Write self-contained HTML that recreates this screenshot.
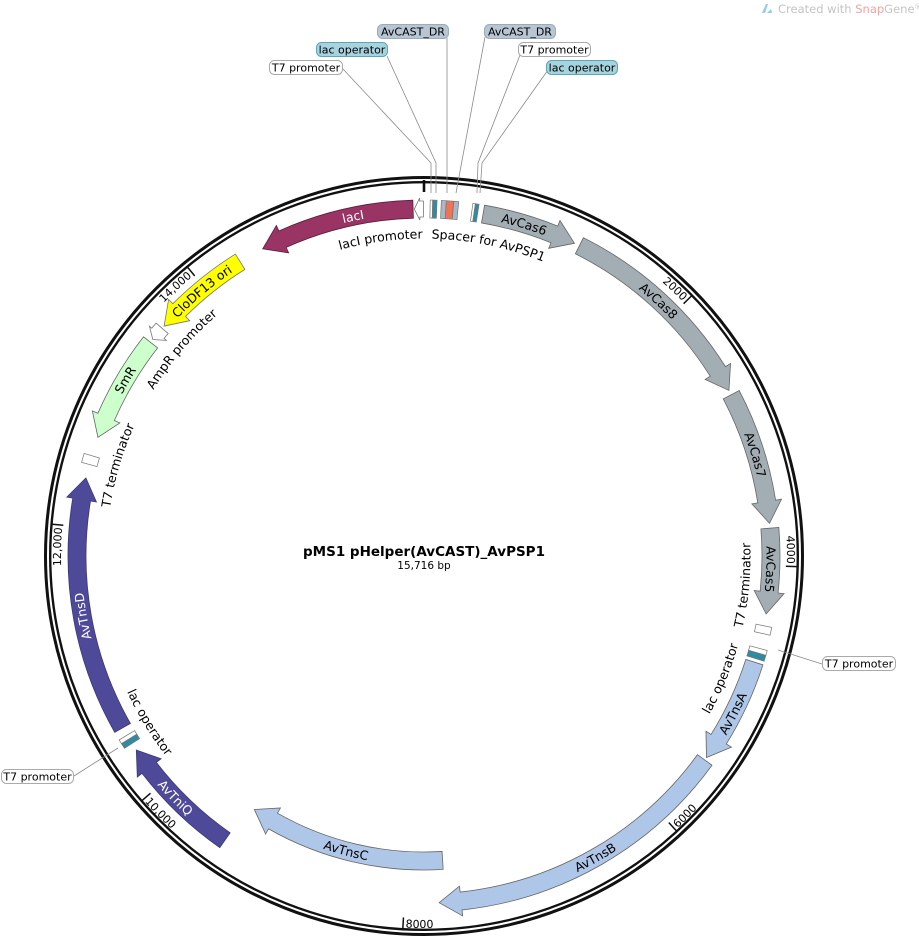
<!DOCTYPE html>
<html><head><meta charset="utf-8"><style>
html,body{margin:0;padding:0;background:#fff;}
svg{display:block;font-family:"DejaVu Sans","Liberation Sans",sans-serif;}
</style></head><body>
<svg id="s" width="919" height="940" viewBox="0 0 919 940" xmlns="http://www.w3.org/2000/svg">
<defs id="d"></defs>
<g id="g"></g>
<path d="M762 13 L766 4 L768 4 L765 13 Z M767 13 L771 9 L772 13 Z" fill="#8fcde8"/>
<text x="778" y="13" font-size="11.5" fill="#c4c4c4">Created with <tspan fill="#f2a3a3">Snap</tspan>Gene<tspan font-size="7" dy="-4">®</tspan></text>
<text x="424" y="556" font-size="13.5" font-weight="bold" text-anchor="middle" fill="#000">pMS1 pHelper(AvCAST)_AvPSP1</text>
<text x="424" y="569" font-size="10.5" text-anchor="middle" fill="#000">15,716 bp</text>
<g stroke="#8a8a8a" stroke-width="0.8" fill="none">
<polyline points="342,68 431,163 431,193"/>
<polyline points="387,56 436,163 436,193"/>
<polyline points="447,38 447,193"/>
<polyline points="485,37 456,193"/>
<polyline points="520,55 478,163 477,193"/>
<polyline points="548,70 482,163 480,193"/>
<polyline points="778,650 822,664"/>
<polyline points="74,776 118,748"/>
</g>
<g font-size="11" text-anchor="middle">
<rect x="377.5" y="24.5" width="71" height="14" rx="5" fill="#b8c6d3" stroke="#9aaab8"/>
<text x="413" y="35.5">AvCAST_DR</text>
<rect x="484.5" y="24.5" width="71" height="14" rx="5" fill="#b8c6d3" stroke="#9aaab8"/>
<text x="520" y="35.5">AvCAST_DR</text>
<rect x="316.5" y="42.5" width="71" height="14" rx="5" fill="#a6d3dd" stroke="#5aa6b8"/>
<text x="352" y="53.5">lac operator</text>
<rect x="546.5" y="60.5" width="71" height="14" rx="5" fill="#a6d3dd" stroke="#5aa6b8"/>
<text x="582" y="71.5">lac operator</text>
<rect x="269.5" y="60.5" width="73" height="14" rx="5" fill="#fff" stroke="#aaa"/>
<text x="306" y="71.5">T7 promoter</text>
<rect x="518.5" y="42.5" width="72" height="14" rx="5" fill="#fff" stroke="#aaa"/>
<text x="554.5" y="53.5">T7 promoter</text>
<rect x="822.5" y="656.5" width="73" height="14" rx="5" fill="#fff" stroke="#aaa"/>
<text x="859" y="667.5">T7 promoter</text>
<rect x="1.5" y="769.5" width="72" height="14" rx="5" fill="#fff" stroke="#aaa"/>
<text x="37.5" y="780.5">T7 promoter</text>
</g>
<g id="t" font-size="12.5">
<text fill="#fff"><textPath href="#p_lacI" startOffset="50%" text-anchor="middle">lacI</textPath></text>
<text><textPath href="#p_cas6" startOffset="50%" text-anchor="middle">AvCas6</textPath></text>
<text><textPath href="#p_cas8" startOffset="50%" text-anchor="middle">AvCas8</textPath></text>
<text><textPath href="#p_cas7" startOffset="50%" text-anchor="middle">AvCas7</textPath></text>
<text><textPath href="#p_cas5" startOffset="50%" text-anchor="middle">AvCas5</textPath></text>
<text><textPath href="#p_tnsA" startOffset="50%" text-anchor="middle">AvTnsA</textPath></text>
<text><textPath href="#p_tnsB" startOffset="50%" text-anchor="middle">AvTnsB</textPath></text>
<text><textPath href="#p_tnsC" startOffset="50%" text-anchor="middle">AvTnsC</textPath></text>
<text fill="#fff"><textPath href="#p_tniQ" startOffset="50%" text-anchor="middle">AvTniQ</textPath></text>
<text fill="#fff"><textPath href="#p_tnsD" startOffset="50%" text-anchor="middle">AvTnsD</textPath></text>
<text><textPath href="#p_smr" startOffset="50%" text-anchor="middle">SmR</textPath></text>
<text><textPath href="#p_clo" startOffset="50%" text-anchor="middle">CloDF13 ori</textPath></text>
<text><textPath href="#p_lacIp" startOffset="50%" text-anchor="middle">lacI promoter</textPath></text>
<text><textPath href="#p_spacer" startOffset="50%" text-anchor="middle">Spacer for AvPSP1</textPath></text>
<text><textPath href="#p_ampr" startOffset="50%" text-anchor="middle">AmpR promoter</textPath></text>
<text><textPath href="#p_t7tl" startOffset="50%" text-anchor="middle">T7 terminator</textPath></text>
<text><textPath href="#p_lacol" startOffset="50%" text-anchor="middle">lac operator</textPath></text>
<text><textPath href="#p_t7tr" startOffset="50%" text-anchor="middle">T7 terminator</textPath></text>
<text><textPath href="#p_lacor" startOffset="50%" text-anchor="middle">lac operator</textPath></text>
<text font-size="11"><textPath href="#k2000" startOffset="100%" text-anchor="end">2000</textPath></text>
<text font-size="11"><textPath href="#k4000" startOffset="100%" text-anchor="end">4000</textPath></text>
<text font-size="11"><textPath href="#k6000" startOffset="0%" text-anchor="start">6000</textPath></text>
<text font-size="11"><textPath href="#k8000" startOffset="0%" text-anchor="start">8000</textPath></text>
<text font-size="11"><textPath href="#k10000" startOffset="0%" text-anchor="start">10,000</textPath></text>
<text font-size="11"><textPath href="#k12000" startOffset="100%" text-anchor="end">12,000</textPath></text>
<text font-size="11"><textPath href="#k14000" startOffset="100%" text-anchor="end">14,000</textPath></text>
</g>
</svg>
<script>
(function(){
var NS="http://www.w3.org/2000/svg",cx=424,cy=556;
var d=document.getElementById("d"),g=document.getElementById("g");
function P(a,r){var t=a*Math.PI/180;return [(cx+r*Math.sin(t)).toFixed(2),(cy-r*Math.cos(t)).toFixed(2)];}
function arcTo(r,a1,a2){var p=P(a2,r);var large=Math.abs(a2-a1)>180?1:0;var sw=a2>a1?1:0;return "A"+r+" "+r+" 0 "+large+" "+sw+" "+p[0]+" "+p[1];}
function M(a,r){var p=P(a,r);return "M"+p[0]+" "+p[1];}
function L(a,r){var p=P(a,r);return "L"+p[0]+" "+p[1];}
function el(tag,attrs,parent){var e=document.createElementNS(NS,tag);for(var k in attrs)e.setAttribute(k,attrs[k]);(parent||g).appendChild(e);return e;}
function circ(r,w){el("circle",{cx:cx,cy:cy,r:r,fill:"none",stroke:"#111","stroke-width":w});}
circ(378.5,3);circ(373.8,2.4);
function arrow(a1,a2,rev,rm,fill,stroke,hw,hh,hl){
  hw=hw||9;hh=hh||15;hl=hl||22;
  var ha=hl/rm*180/Math.PI; if(ha>(a2-a1)*0.6)ha=(a2-a1)*0.6;
  var s;
  if(!rev){var ab=a2-ha;
    s=M(a1,rm+hw)+arcTo(rm+hw,a1,ab)+L(ab,rm+hh)+L(a2,rm)+L(ab,rm-hh)+L(ab,rm-hw)+arcTo(rm-hw,ab,a1)+"Z";
  }else{var ab=a1+ha;
    s=M(a2,rm+hw)+arcTo(rm+hw,a2,ab)+L(ab,rm+hh)+L(a1,rm)+L(ab,rm-hh)+L(ab,rm-hw)+arcTo(rm-hw,ab,a2)+"Z";}
  el("path",{d:s,fill:fill,stroke:stroke||"#666","stroke-width":0.8});
}
function box(a1,a2,r1,r2,fill,stroke){
  var s=M(a1,r2)+arcTo(r2,a1,a2)+L(a2,r1)+arcTo(r1,a2,a1)+"Z";
  el("path",{d:s,fill:fill,stroke:stroke||"#777","stroke-width":0.7});
}
var R=347,RI=305;
el("line",{x1:424,y1:180,x2:424,y2:192,stroke:"#111","stroke-width":2.6});
[2000,4000,6000,8000,10000,12000,14000].forEach(function(b){var a=b/15716*360;var p1=P(a,373),p2=P(a,362);el("line",{x1:p1[0],y1:p1[1],x2:p2[0],y2:p2[1],stroke:"#111","stroke-width":1.5});});
var GR="#a3adb4",LB="#aec6e7",DP="#4e4a99";
arrow(332.3,358.2,true,R,"#993464","#5a1e3a");
arrow(358.4,359.9,true,R,"#fff","#777",8,11,8);
box(1.0,1.4,R-9,R+9,"#fff");box(1.4,2.1,R-9,R+9,"#2f8aa3");
box(2.8,3.6,R-9,R+9,"#a9b7c6");box(3.6,4.8,R-9,R+9,"#ec7458");box(4.8,5.6,R-9,R+9,"#a9b7c6");
box(7.9,8.3,R-9,R+9,"#fff");box(8.3,8.9,R-9,R+9,"#2f8aa3");
arrow(9.8,25.7,false,R,GR);
arrow(26.6,61.5,false,R,GR);
arrow(62.3,84.6,false,R,GR);
arrow(85.4,99.6,false,R,GR);
box(101.6,102.9,R-8,R+8,"#fff");
box(105.4,106.2,R-9,R+9,"#fff");box(106.2,107.2,R-9,R+9,"#2f8aa3");
arrow(107.8,125.5,false,R,LB);
arrow(126.0,177.5,false,R,LB);
arrow(176.5,213.8,false,RI,LB);
arrow(215.0,236.0,false,R,DP,"#3a3778");
box(237.3,238.2,R-9,R+9,"#2f8aa3");box(238.2,238.9,R-9,R+9,"#fff");
arrow(240.3,283.0,false,R,DP,"#3a3778");
box(285.3,286.8,R-8,R+8,"#fff");
arrow(290.0,308.0,true,R,"#ccffcc");
arrow(308.6,311.0,true,R,"#fff","#777",8,11,8);
arrow(311.5,328.0,true,R,"#ffff00","#777");
function tp(id,c,r,cw,span){span=span||70;var s=cw?(M(c-span,r)+arcTo(r,c-span,c+span)):(M(c+span,r)+arcTo(r,c+span,c-span));el("path",{id:id,d:s,fill:"none"},d);}
var off=4.5;
tp("p_lacI",-11.8,R-off,true);
tp("p_cas6",16.8,R-off,true);
tp("p_cas8",42.6,R-off,true);
tp("p_cas7",73,R-off,true);
tp("p_cas5",92.2,R-off,true);
tp("p_tnsA",117,R+off,false);
tp("p_tnsB",150.4,R+off,false);
tp("p_tnsC",194.8,RI+off,false);
tp("p_tniQ",225.8,R+off,false);
tp("p_tnsD",260,R-off,true);
tp("p_smr",300.5,R-off,true);
tp("p_clo",320,R-off,true);
var RL=322;
tp("p_lacIp",-7.8,RL-off,true);
tp("p_spacer",11.7,RL-off,true);
tp("p_ampr",310.5,RL-off,true);
tp("p_t7tl",286.5,RL-off,true);
tp("p_lacol",238.8,RL+off,false);
tp("p_t7tr",95.2,RL+off,false);
tp("p_lacor",112.4,RL+off,false);
function tk(id,b,cw){var a=b/15716*360;var s;if(cw){s=M(a-40,363)+arcTo(363,a-40,a-0.4);}else{s=M(a-0.4,372)+arcTo(372,a-0.4,a-40);}el("path",{id:id,d:s,fill:"none"},d);}
tk("k2000",2000,true);tk("k4000",4000,true);tk("k6000",6000,false);tk("k8000",8000,false);
tk("k10000",10000,false);tk("k12000",12000,true);tk("k14000",14000,true);
})();
</script>
</body></html>
